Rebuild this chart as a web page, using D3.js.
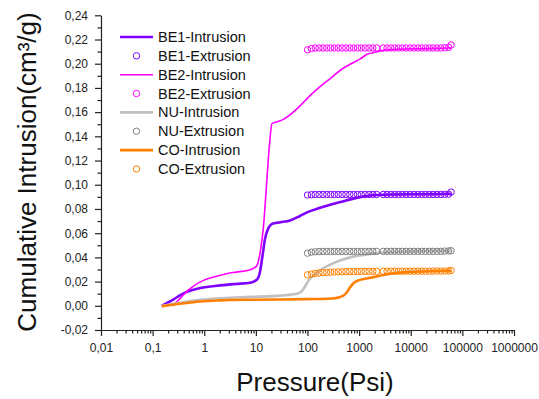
<!DOCTYPE html>
<html>
<head>
  <meta http-equiv="Content-Type" content="text/html;charset=utf-8" />
  <style type="text/css">
    body { margin: 0; background: #fff; }
    text { font-family: Arial, "Liberation Sans", sans-serif; }
    .axis path, .axis line { stroke: #222; stroke-width: 1.2; }
    .axis text { font-size: 12px; fill: #222; }
  </style>
</head>
<body>
  <div id="svgContainer"></div>
  <script src="https://d3js.org/d3.v7.min.js"></script>
  <script type="text/javascript">
    // intrusion curves: [pressure (psi), cumulative intrusion (cm3/g)]
    var be1Intrusion = [[0.15, 0], [0.25, 0.005], [0.35, 0.009], [0.49, 0.012], [0.8, 0.0145], [1.75, 0.0165], [4, 0.018],
      [7.7, 0.019], [10.4, 0.0215], [12, 0.028], [13.5, 0.042], [15, 0.055], [17, 0.063], [19, 0.0665], [21.8, 0.068],
      [30, 0.069], [46, 0.0705], [70, 0.074], [100, 0.0774], [175, 0.081], [430, 0.0857], [1050, 0.0898], [2000, 0.0915],
      [5000, 0.092], [20000, 0.0922], [60000, 0.0925]];
    var be2Intrusion = [[0.245, 0], [0.35, 0.0065], [0.49, 0.013], [0.96, 0.021], [1.6, 0.024], [2.7, 0.0265], [4.5, 0.028],
      [7.7, 0.0298], [10.4, 0.033], [11.2, 0.037], [12.5, 0.048], [14, 0.065], [15.5, 0.09], [17, 0.115], [18.5, 0.135],
      [20.5, 0.1505], [26, 0.152], [34, 0.154], [53, 0.16], [75, 0.166], [97, 0.171], [175, 0.181], [300, 0.189],
      [430, 0.1946], [700, 0.2], [1050, 0.204], [1400, 0.2076], [2000, 0.2095], [2950, 0.211], [6000, 0.212],
      [20000, 0.2125], [60000, 0.213]];
    var nuIntrusion = [[0.15, 0], [0.25, 0.0015], [0.39, 0.003], [0.83, 0.005], [2, 0.0062], [5, 0.007], [20, 0.008],
      [50, 0.0093], [65, 0.0102], [72, 0.011], [90, 0.016], [105, 0.021], [150, 0.027], [200, 0.031], [275, 0.034],
      [400, 0.037], [670, 0.04], [1200, 0.042], [2200, 0.0435], [5000, 0.0445], [15000, 0.045], [60000, 0.0455]];
    var coIntrusion = [[0.15, -0.0005], [0.3, 0.0015], [0.5, 0.0025], [0.83, 0.0036], [2, 0.0045], [7.7, 0.005],
      [30, 0.0052], [100, 0.0055], [300, 0.006], [400, 0.0068], [500, 0.0085], [600, 0.012], [670, 0.0154],
      [800, 0.019], [970, 0.021], [1400, 0.0225], [1890, 0.0237], [4000, 0.0265], [8000, 0.0278], [20000, 0.0285],
      [60000, 0.029]];

    // extrusion points: shared pressures, one value list per sample
    var extrusionPressure = [100, 119, 141, 167, 199, 236, 280, 332, 394, 468, 555, 659, 782, 929, 1100, 1310, 1550,
      1840, 2180, 2920, 3470, 4110, 4880, 5800, 6880, 8170, 9700, 11500, 13700, 16200, 19300, 22900, 27100, 32200,
      38300, 45400, 54000, 60500];
    var be1Extrusion = [0.0915, 0.0918, 0.092, 0.092, 0.092, 0.092, 0.092, 0.092, 0.092, 0.092, 0.092, 0.092, 0.092,
      0.092, 0.092, 0.092, 0.092, 0.092, 0.092, 0.092, 0.092, 0.092, 0.092, 0.092, 0.092, 0.092, 0.092, 0.092, 0.092,
      0.092, 0.092, 0.092, 0.092, 0.092, 0.092, 0.0921, 0.0922, 0.094];
    var be2Extrusion = [0.2115, 0.2125, 0.213, 0.213, 0.213, 0.213, 0.213, 0.213, 0.213, 0.213, 0.213, 0.213, 0.213,
      0.213, 0.213, 0.213, 0.213, 0.213, 0.213, 0.213, 0.213, 0.213, 0.213, 0.213, 0.213, 0.213, 0.213, 0.213, 0.213,
      0.213, 0.213, 0.213, 0.213, 0.213, 0.213, 0.2132, 0.2135, 0.2155];
    var nuExtrusion = [0.0435, 0.0443, 0.0446, 0.0448, 0.0449, 0.0449, 0.0449, 0.0449, 0.0449, 0.0449, 0.0449, 0.0449,
      0.0449, 0.0449, 0.0449, 0.0449, 0.0449, 0.0449, 0.0449, 0.045, 0.045, 0.045, 0.045, 0.045, 0.045, 0.045, 0.045,
      0.045, 0.045, 0.045, 0.045, 0.045, 0.045, 0.045, 0.045, 0.0452, 0.0453, 0.0455];
    var coExtrusion = [0.0256, 0.0262, 0.0267, 0.0271, 0.0274, 0.0276, 0.0278, 0.0279, 0.028, 0.0281, 0.0282, 0.0283,
      0.0283, 0.0284, 0.0284, 0.0284, 0.0285, 0.0285, 0.0285, 0.0285, 0.0286, 0.0286, 0.0286, 0.0286, 0.0286, 0.0286,
      0.0286, 0.0286, 0.0286, 0.0286, 0.0286, 0.0286, 0.0287, 0.0287, 0.0287, 0.0287, 0.0288, 0.0292];

    var seriesNames = ["BE1", "BE2", "NU", "CO"];
    var yTicks = [-0.02, 0, 0.02, 0.04, 0.06, 0.08, 0.1, 0.12, 0.14, 0.16, 0.18, 0.2, 0.22, 0.24];
    var xTicks = [0.01, 0.1, 1, 10, 100, 1000, 10000, 100000, 1000000];
    var xTickLabels = ["0,01", "0,1", "1", "10", "100", "1000", "10000", "100000", "1000000"];

    var w = 539, h = 399;
    var plotLeft = 101, plotRight = 514, plotTop = 15.3, plotBottom = 330;

    var svg = d3.select("#svgContainer")
      .append("svg")
      .attr("width", w)
      .attr("height", h);

    var xScale = d3.scaleLog().domain([0.01, 1000000]).range([plotLeft, plotRight]);
    var yScale = d3.scaleLinear().domain([-0.02, 0.24]).range([plotBottom, plotTop]);

    // minor ticks first
    var xMinor = [];
    for (var d = 0.01; d < 1000000; d *= 10) {
      for (var k = 2; k < 10; k++) xMinor.push(d * k);
    }
    var yMinor = yTicks.slice(0, -1).map(function (v) { return v + 0.01; });

    svg.append("g").attr("class", "axis")
      .attr("transform", "translate(0," + plotBottom + ")")
      .call(d3.axisBottom(xScale).tickValues(xMinor).tickSize(3.5).tickFormat(""))
      .select(".domain").remove();
    svg.append("g").attr("class", "axis")
      .attr("transform", "translate(" + plotLeft + ",0)")
      .call(d3.axisLeft(yScale).tickValues(yMinor).tickSize(3.5).tickFormat(""))
      .select(".domain").remove();

    svg.append("g").attr("class", "axis")
      .attr("transform", "translate(0," + plotBottom + ")")
      .call(d3.axisBottom(xScale).tickValues(xTicks).tickSize(6).tickSizeOuter(0)
        .tickFormat(function (d, i) { return xTickLabels[i]; }))
      .selectAll("text").attr("dy", "1.05em");
    svg.append("g").attr("class", "axis")
      .attr("transform", "translate(" + plotLeft + ",0)")
      .call(d3.axisLeft(yScale).tickValues(yTicks).tickSize(6).tickSizeOuter(0)
        .tickFormat(function (d) { return d3.format(".2f")(d).replace(".", ",").replace("−", "-"); }))
      .selectAll("text").attr("x", -13);

    // axis titles
    svg.append("text")
      .attr("x", 315).attr("y", 391)
      .attr("text-anchor", "middle")
      .attr("font-size", 26).attr("fill", "#111")
      .text("Pressure(Psi)");
    svg.append("text")
      .attr("transform", "translate(36,172) rotate(-90)")
      .attr("text-anchor", "middle")
      .attr("font-size", 26).attr("fill", "#111")
      .text("Cumulative Intrusion(cm³/g)");

    var lineColors = { BE1: "#7f00ff", BE2: "#ff00ff", NU: "#c0c0c0", CO: "#ff7f00" };
    var dotColors = { BE1: "#8000ff", BE2: "#ff00ff", NU: "#808080", CO: "#ff7f00" };
    var lineWidths = { BE1: 2.6, BE2: 1.6, NU: 2.6, CO: 2.6 };
    var intrusion = { BE1: be1Intrusion, BE2: be2Intrusion, NU: nuIntrusion, CO: coIntrusion };
    var extrusion = { BE1: be1Extrusion, BE2: be2Extrusion, NU: nuExtrusion, CO: coExtrusion };

    var line = d3.line()
      .x(function (d) { return xScale(d[0]); })
      .y(function (d) { return yScale(d[1]); })
      .curve(d3.curveMonotoneX);

    seriesNames.forEach(function (name) {
      svg.append("path")
        .attr("d", line(intrusion[name]))
        .attr("fill", "none")
        .attr("stroke", lineColors[name])
        .attr("stroke-width", lineWidths[name]);
    });

    seriesNames.forEach(function (name) {
      svg.append("g").selectAll("circle")
        .data(extrusion[name])
        .enter()
        .append("circle")
        .attr("cx", function (d, i) { return xScale(extrusionPressure[i]); })
        .attr("cy", function (d) { return yScale(d); })
        .attr("r", 3.2)
        .attr("fill", "none")
        .attr("stroke", dotColors[name])
        .attr("stroke-width", 1);
    });

    // legend
    var legend = svg.append("g").attr("transform", "translate(120,37)");
    seriesNames.forEach(function (name, i) {
      var y1 = i * 37.7, y2 = y1 + 18.8;
      legend.append("line")
        .attr("x1", 0).attr("x2", 33).attr("y1", y1).attr("y2", y1)
        .attr("stroke", lineColors[name]).attr("stroke-width", lineWidths[name]);
      legend.append("text")
        .attr("x", 38).attr("y", y1).attr("dy", "0.35em")
        .attr("font-size", 14.5).attr("fill", "#111")
        .text(name + "-Intrusion");
      legend.append("circle")
        .attr("cx", 16.5).attr("cy", y2).attr("r", 3.2)
        .attr("fill", "none").attr("stroke", dotColors[name]).attr("stroke-width", 1);
      legend.append("text")
        .attr("x", 38).attr("y", y2).attr("dy", "0.35em")
        .attr("font-size", 14.5).attr("fill", "#111")
        .text(name + "-Extrusion");
    });
  </script>
</body>
</html>
